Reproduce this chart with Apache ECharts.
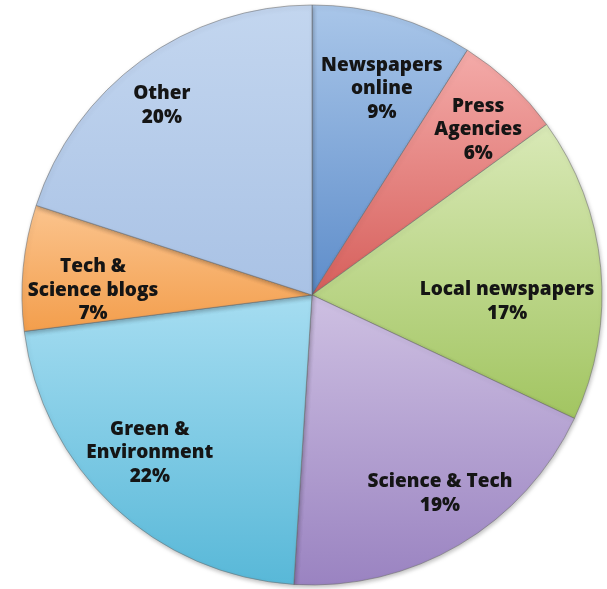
<!DOCTYPE html>
<html>
<head>
<meta charset="utf-8">
<script src="https://cdn.jsdelivr.net/npm/echarts@6/dist/echarts.min.js"></script>
<style>html,body{margin:0;padding:0;background:#fff}#c{width:607px;height:589px}</style>
</head>
<body>
<div id="c"></div>
<script>
const categories = ["Newspapers\nonline", "Press\nAgencies", "Local newspapers", "Science & Tech", "Green &\nEnvironment", "Tech &\nScience blogs", "Other"];
const values = [9, 6, 17, 19, 22, 7, 20];
const colorsTop = ["#A9C6E9", "#F4ABA9", "#D9E9B7", "#CEC0E2", "#A6DDF1", "#FBC48E", "#C3D6EF"];
const colorsBottom = ["#5E8DCA", "#D65F5B", "#A2C561", "#9A83C1", "#58B8D8", "#F39E4C", "#A9C2E5"];
const labelShift = [[9, 3], [17, -6], [-22, 27], [17, 11], [-13, -1], [-2, 16], [-22, -13]];

const chart = echarts.init(document.getElementById('c'), null, {renderer: 'canvas'});
const slices = categories.map((n, i) => ({
  name: n, value: values[i],
  itemStyle: {color: new echarts.graphic.LinearGradient(0, 0, 0, 1, [
    {offset: 0, color: colorsTop[i]}, {offset: 1, color: colorsBottom[i]}])}
}));
const labelSlices = categories.map((n, i) => ({name: n, value: values[i]}));
chart.setOption({
  animation: false,
  series: [
    {
      type: 'pie', center: [312, 295], radius: [0, 290], startAngle: 90, clockwise: true,
      silent: true, label: {show: false}, labelLine: {show: false},
      itemStyle: {borderColor: 'rgba(110,110,110,0.55)', borderWidth: 1,
        shadowColor: 'rgba(0,0,0,0.25)', shadowBlur: 4, shadowOffsetX: 1, shadowOffsetY: 2},
      data: slices, z: 1
    },
    {
      type: 'pie', center: [312, 295], radius: [140, 290], startAngle: 90, clockwise: true,
      silent: true, labelLine: {show: false},
      itemStyle: {color: 'rgba(0,0,0,0)', borderWidth: 0},
      label: {show: true, position: 'inside', formatter: '{b}\n{c}%', color: '#151515',
        fontFamily: 'Open Sans', fontWeight: 800, fontSize: 19, lineHeight: 23.5, align: 'center'},
      labelLayout: function (p) { const s = labelShift[p.dataIndex]; return {dx: s[0], dy: s[1]}; },
      data: labelSlices, z: 2
    }
  ]
});
</script>
</body>
</html>
